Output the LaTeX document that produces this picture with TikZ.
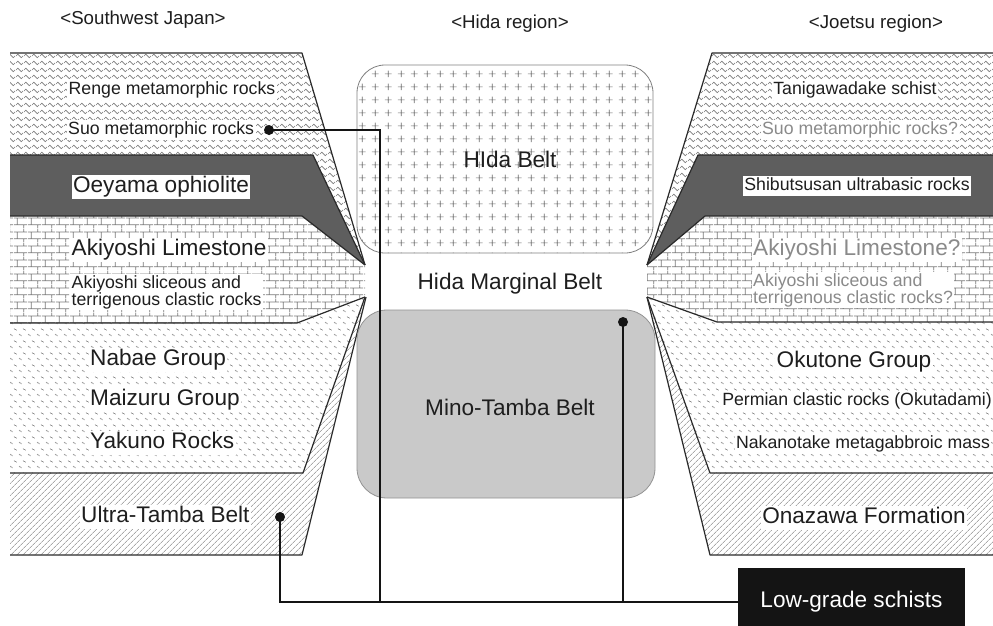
\documentclass[tikz,border=0pt]{standalone}
\usepackage{fontspec}
\setmainfont{Liberation Sans}
\usetikzlibrary{patterns.meta}

\definecolor{txt}{HTML}{1E1E1E}
\definecolor{pat}{HTML}{7A7A7A}
\definecolor{patl}{HTML}{8A8A8A}
\definecolor{patc}{HTML}{6E6E6E}
\definecolor{darkl}{HTML}{5E5E5E}
\definecolor{mino}{HTML}{C9C9C9}
\definecolor{edgec}{HTML}{2A2A2A}
\definecolor{qgray}{HTML}{8A8A8A}
\definecolor{boxk}{HTML}{141414}

\tikzdeclarepattern{
  name=wavy, type=uncolored,
  bounding box={(0pt,0pt) and (8pt,7pt)},
  tile size={(8pt,7pt)},
  code={\draw[line width=0.65pt] (0pt,3.5pt) .. controls (1.3pt,6.2pt) and (2.7pt,6.2pt) .. (4pt,3.5pt) .. controls (5.3pt,0.8pt) and (6.7pt,0.8pt) .. (8pt,3.5pt);}
}
\tikzdeclarepattern{
  name=bricks, type=uncolored,
  bounding box={(0pt,0pt) and (14pt,13.6pt)},
  tile size={(14pt,13.6pt)},
  code={\draw[line width=0.8pt] (0pt,3.4pt) -- (14pt,3.4pt) (0pt,10.2pt) -- (14pt,10.2pt)
        (3.5pt,3.4pt) -- (3.5pt,10.2pt) (10.5pt,10.2pt) -- (10.5pt,13.6pt) (10.5pt,0pt) -- (10.5pt,3.4pt);}
}
\tikzdeclarepattern{
  name=ticks, type=uncolored,
  bounding box={(0pt,0pt) and (9pt,12pt)},
  tile size={(9pt,12pt)},
  code={\draw[line width=0.6pt] (1.2pt,4.2pt) -- (2.2pt,3.1pt) -- (3pt,3.3pt) -- (3.9pt,2.1pt)
        (5.7pt,10.2pt) -- (6.7pt,9.1pt) -- (7.5pt,9.3pt) -- (8.4pt,8.1pt);}
}
\tikzdeclarepattern{
  name=crosses, type=uncolored,
  bounding box={(0pt,0pt) and (13.2pt,13pt)},
  tile size={(13.2pt,13pt)},
  code={\draw[line width=0.65pt] (3.1pt,6.5pt) -- (10.1pt,6.5pt) (6.6pt,3pt) -- (6.6pt,10pt);}
}

\newcommand\fsmall{\fontsize{17.7}{17}\selectfont}
\newcommand\flarge{\fontsize{22.6}{26}\selectfont}
\newcommand\fhead{\fontsize{18.7}{22}\selectfont}

\tikzset{
  wavefill/.style={pattern={wavy}, pattern color=pat},
  brickfill/.style={pattern={bricks}, pattern color=pat},
  tickfill/.style={pattern={ticks}, pattern color=patl},
  hatchfill/.style={pattern={Lines[angle=45,distance=4pt,line width=0.55pt]}, pattern color=pat},
  darkfill/.style={fill=darkl},
  bound/.style={draw=edgec, line width=1.2pt, line join=round},
  sl/.style={fill=white, inner xsep=1.5pt, inner ysep=1.5pt, text=txt, font=\fsmall, text height=13.3pt, text depth=3.9pt},
  sltwo/.style={fill=white, inner xsep=1.5pt, inner ysep=1.5pt, text=txt, font=\fsmall, align=left},
  ll/.style={fill=white, inner xsep=1.5pt, inner ysep=1pt, text=txt, font=\flarge, text height=16.8pt, text depth=5pt},
  hd/.style={text=txt, font=\fhead, inner sep=0pt, text height=14pt, text depth=4pt},
  plain/.style={text=txt, font=\flarge, inner sep=0pt, text height=16.8pt, text depth=5pt},
  hidabox/.style={draw=gray, line width=0.8pt, rounded corners=28pt, pattern={crosses}, pattern color=patc, inner sep=0pt},
  minobox/.style={draw=gray!85, line width=0.8pt, rounded corners=30pt, fill=mino, inner sep=0pt},
  dotn/.style={circle, fill=boxk, minimum size=10pt, inner sep=0pt},
  conn/.style={draw=boxk, line width=2pt},
  lowbox/.style={fill=boxk, text=white, font=\flarge, inner sep=0pt, minimum width=227pt, minimum height=68pt, text height=16.8pt, text depth=5pt}
}

\begin{document}
\begin{tikzpicture}[x=1pt, y=-1pt]
\useasboundingbox (0,0) rectangle (993,625);
\fill[white] (0,0) rectangle (993,625);

% ---------- left column layers ----------
\fill[wavefill] (10,53) -- (302,53) -- (365,265) -- (313,155) -- (10,155) -- cycle;
\fill[darkfill] (10,155) -- (313,155) -- (365,265) -- (302,216) -- (10,216) -- cycle;
\fill[brickfill] (10,216) -- (302,216) -- (365,265) -- (365,297) -- (297,323) -- (10,323) -- cycle;
\fill[tickfill] (10,323) -- (297,323) -- (365,297) -- (303,473) -- (10,473) -- cycle;
\fill[hatchfill] (10,473) -- (303,473) -- (365,297) -- (302,555) -- (10,555) -- cycle;

\draw[bound] (10,53) -- (302,53) -- (365,265);
\draw[bound] (10,155) -- (313,155) -- (365,265);
\draw[bound] (10,216) -- (302,216) -- (365,265);
\draw[bound] (10,323) -- (297,323) -- (365,297);
\draw[bound] (10,473) -- (303,473) -- (365,297);
\draw[bound] (10,555) -- (302,555) -- (366,297);

% ---------- right column layers ----------
\fill[wavefill] (993,53) -- (712,53) -- (647,265) -- (698,155) -- (993,155) -- cycle;
\fill[darkfill] (993,155) -- (698,155) -- (647,265) -- (705,216) -- (993,216) -- cycle;
\fill[brickfill] (993,216) -- (705,216) -- (647,265) -- (647,297) -- (717,322) -- (993,322) -- cycle;
\fill[tickfill] (993,322) -- (717,322) -- (647,297) -- (710,473) -- (993,473) -- cycle;
\fill[hatchfill] (993,473) -- (710,473) -- (647,297) -- (710,555) -- (993,555) -- cycle;

\draw[bound] (993,53) -- (712,53) -- (647,265);
\draw[bound] (993,155) -- (698,155) -- (647,265);
\draw[bound] (993,216) -- (705,216) -- (647,265);
\draw[bound] (993,322) -- (717,322) -- (647,297);
\draw[bound] (993,473) -- (710,473) -- (647,297);
\draw[bound] (993,555) -- (710,555) -- (647,297);

% ---------- centre ----------
\node[hidabox, minimum width=296pt, minimum height=188pt] (hida) at (505,159) {};
\node[minobox, minimum width=298pt, minimum height=188pt] (mino) at (506,404) {};
\node[plain] (hidalbl) at (510,162) {HIda Belt};
\node[plain] (marg) at (510,284) {Hida Marginal Belt};
\node[plain] (minolbl) at (510,410) {Mino-Tamba Belt};

% ---------- headings ----------
\node[hd] (hsw) at (143,19) {<Southwest Japan>};
\node[hd] (hhida) at (510,23) {<Hida region>};
\node[hd] (hjoe) at (876,23) {<Joetsu region>};

% ---------- left labels ----------
\node[sl] (renge) at (172,90) {Renge metamorphic rocks};
\node[sl, anchor=west] (suo) at (66.5,130) {Suo metamorphic rocks};
\node[ll] (oeyama) at (161,187) {Oeyama ophiolite};
\node[ll, anchor=west] (akil) at (70,250) {Akiyoshi Limestone};
\node[sltwo, anchor=west] (akis) at (70,292) {Akiyoshi sliceous and\\terrigenous clastic rocks};
\node[ll, anchor=west] (nabae) at (88.5,360) {Nabae Group};
\node[ll, anchor=west] (maizuru) at (88.5,400) {Maizuru Group};
\node[ll, anchor=west] (yakuno) at (88.5,443) {Yakuno Rocks};
\node[ll, anchor=west] (ultra) at (79.5,517) {Ultra-Tamba Belt};

% ---------- right labels ----------
\node[sl] (tani) at (855,90) {Tanigawadake schist};
\node[sl, text=qgray] (suoq) at (860,130) {Suo metamorphic rocks?};
\node[sl] (shibu) at (857,186) {Shibutsusan ultrabasic rocks};
\node[ll, text=qgray, anchor=west] (akilq) at (751.5,250) {Akiyoshi Limestone?};
\node[sltwo, text=qgray, anchor=west] (akisq) at (751.5,290) {Akiyoshi sliceous and\\terrigenous clastic rocks?};
\node[ll] (okutone) at (854,362) {Okutone Group};
\node[sl] (permian) at (857,401) {Permian clastic rocks (Okutadami)};
\node[sl] (naka) at (863,444) {Nakanotake metagabbroic mass};
\node[ll] (onazawa) at (864,518) {Onazawa Formation};

% ---------- connectors ----------
\node[lowbox] (low) at (851.5,602) {Low-grade schists};
\node[dotn] (suodot) at (269,130) {};
\node[dotn] (utdot) at (280,517) {};
\node[dotn] (mtdot) at (623,322) {};
\coordinate (j1) at (380,130);
\coordinate (j2) at (380,602);
\coordinate (j3) at (623,602);

\draw[conn] (suodot.center) -- (j1) -- (j2);
\draw[conn] (utdot.center) |- (low.west);
\draw[conn] (mtdot.center) -- (j3);
\end{tikzpicture}
\end{document}
